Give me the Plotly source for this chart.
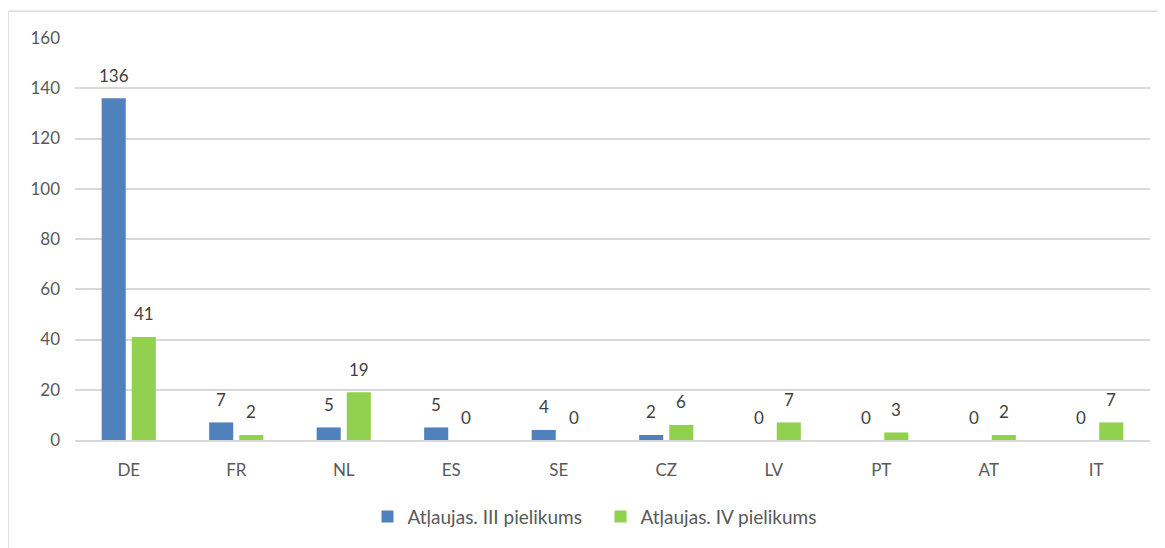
import plotly.graph_objects as go

categories = ["DE", "FR", "NL", "ES", "SE", "CZ", "LV", "PT", "AT", "IT"]
series_iii = [136, 7, 5, 5, 4, 2, 0, 0, 0, 0]
series_iv = [41, 2, 19, 0, 0, 6, 7, 3, 2, 7]
name_iii = "Atļaujas. III pielikums"
name_iv = "Atļaujas. IV pielikums"
y_ticks = [0, 20, 40, 60, 80, 100, 120, 140, 160]

FONT = "Lato, 'Liberation Sans', sans-serif"
BARGAP = 0.44

fig = go.Figure()
fig.add_trace(go.Bar(x=categories, y=series_iii, name=name_iii,
                     marker=dict(color="#4f81bd", line=dict(width=0))))
fig.add_trace(go.Bar(x=categories, y=series_iv, name=name_iv,
                     marker=dict(color="#92d050", line=dict(width=0))))

# value labels placed above each bar
off = (1 - BARGAP) / 4
annotations = []
for i, (a, b) in enumerate(zip(series_iii, series_iv)):
    for xv, v in ((i - off, a), (i + off, b)):
        annotations.append(dict(x=xv, y=v, xref="x", yref="y", text=str(v),
                                showarrow=False, yanchor="middle", yshift=23,
                                font=dict(size=17, color="#404040", family=FONT)))

# page body has an 8px offset
W, H = 1157, 540
L, T = 67, 30
R = W - 1142
B = H - 434
pw, ph = W - L - R, H - T - B

def px_x(p):
    return (p - L) / pw

def px_y(p):
    return (H - B - p) / ph

fig.update_layout(
    width=W, height=H,
    margin=dict(l=L, r=R, t=T, b=B),
    paper_bgcolor="white", plot_bgcolor="white",
    barmode="group", bargap=BARGAP, bargroupgap=0.2,
    font=dict(family=FONT, size=16, color="#595959"),
    showlegend=True,
    legend=dict(orientation="h", x=0.5 - 12 / pw, xanchor="center", y=px_y(511), yanchor="middle",
                font=dict(size=19, color="#595959"), itemwidth=30, traceorder="normal",
                entrywidthmode="pixels", entrywidth=188),
    annotations=annotations,
    xaxis=dict(showgrid=False, showline=True, linecolor="#d9d9d9", linewidth=1.5,
               ticks="", tickfont=dict(size=17, color="#595959"), ticklabelstandoff=14),
    yaxis=dict(range=[0, 160], tickvals=y_ticks, showgrid=True, gridcolor="#d9d9d9",
               gridwidth=1.5, zeroline=False, showline=False, ticks="",
               tickfont=dict(size=17, color="#595959"), ticklabelstandoff=14),
    shapes=[dict(type="rect", xref="paper", yref="paper",
                 x0=px_x(0), x1=px_x(1250), y0=px_y(650), y1=px_y(3),
                 line=dict(color="#d9d9d9", width=1.5), fillcolor="rgba(0,0,0,0)", layer="below")],
)

fig.write_html("out.html")
